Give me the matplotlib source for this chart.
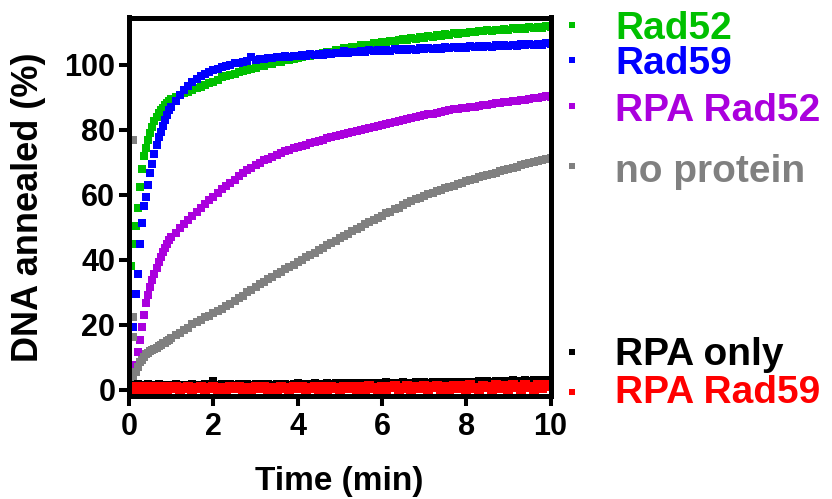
import numpy as np
import matplotlib
matplotlib.use("Agg")
import matplotlib.pyplot as plt

plt.rcParams['font.family'] = ['Liberation Sans', 'DejaVu Sans']
plt.rcParams['font.weight'] = 'bold'

nan = np.nan

# sampling times (min): dense start, then every 0.1 min
time_min = np.round(np.concatenate([np.linspace(0.05, 0.95, 19),
                                    np.linspace(1.0, 10.0, 91)]), 2)

rad52 = [38, 45, 50.5, 56, 62.5, 68, 72, 74.5, 77, 79.2,
         81, 82.8, 84, 85.2, 86.1, 86.8, 87.6, 88.3, 88.9,
         89.4, 90.0, 90.6, 91.3, 91.8, 92.3, 92.9, 93.3, 93.9, 94.4,
         94.9, 95.4, 96.2, 96.6, 97.0, 97.3, 97.9, 98.2, 98.4, 98.9,
         99.1, 99.6, 99.8, 100.3, 100.4, 100.9, 101.0, 101.4, 101.6, 101.9,
         102.2, 102.4, 102.8, 102.7, 103.2, 103.4, 103.6, 104.1, 104.0, 104.5,
         104.6, 105.2, 105.1, 105.6, 105.5, 106.0, 106.2, 106.1, 106.6, 106.7,
         107.0, 106.9, 107.4, 107.3, 107.6, 107.9, 107.8, 108.2, 108.1, 108.5,
         108.4, 108.8, 108.7, 109.1, 109.0, 109.4, 109.3, 109.7, 109.5, 109.9,
         109.8, 110.2, 110.0, 110.4, 110.3, 110.6, 110.5, 110.9, 110.7, 111.1,
         110.9, 111.3, 111.1, 111.5, 111.2, 111.6, 111.4, 111.8, 111.5, 111.9, 111.7]

rad59 = [nan, 19.5, 29.5, 35.8, 45, 51.5, 56.5, 59.5, 63, 66.8,
         69.5, 72.5, 75.5, 77.8, 79.5, 81.2, 83.0, 84.5, 86.0,
         87.0, 89.0, 90.8, 92.2, 93.6, 94.8, 95.8, 96.6, 97.3, 97.9,
         98.5, 98.9, 99.4, 99.8, 100.0, 100.5, 100.6, 101.0, 101.1, 102.5,
         101.5, 101.9, 101.7, 102.2, 102.0, 102.5, 102.3, 102.7, 102.4, 102.9,
         102.7, 103.1, 102.8, 103.3, 103.0, 103.5, 103.2, 103.7, 103.4, 103.8,
         103.6, 104.3, 103.8, 104.1, 103.9, 104.3, 104.0, 104.5, 104.2, 104.6,
         104.3, 104.7, 104.4, 104.9, 104.5, 104.9, 104.6, 105.0, 104.7, 105.1,
         104.8, 105.2, 104.9, 105.3, 105.0, 105.4, 105.1, 105.5, 105.2, 105.6,
         105.3, 105.7, 105.4, 105.8, 105.5, 105.9, 105.6, 106.0, 105.7, 106.1,
         105.8, 106.2, 105.9, 106.3, 106.0, 106.4, 106.1, 106.5, 106.2, 106.6, 106.3]

rpa_rad52 = [nan, 4.5, 7.8, 11.8, 15.5, 19.3, 23.2, 26.8, 29.3, 31.7,
             33.8, 35.8, 37.6, 39.3, 40.9, 42.4, 43.8, 45.0, 46.1,
             47.0, 48.3, 49.7, 51.0, 52.3, 53.4, 54.8, 56.0, 57.3, 58.4,
             59.5, 60.6, 61.7, 62.7, 63.8, 64.7, 65.7, 66.6, 67.6, 68.4,
             69.2, 69.9, 70.6, 71.2, 71.7, 72.3, 72.8, 73.4, 73.8, 74.3,
             74.7, 75.2, 75.5, 76.0, 76.3, 76.7, 77.0, 77.5, 77.7, 78.2,
             78.4, 78.8, 79.0, 79.4, 79.6, 80.0, 80.3, 80.7, 80.9, 81.3,
             81.5, 81.9, 82.1, 82.5, 82.7, 83.1, 83.3, 83.7, 83.9, 84.3,
             84.5, 84.8, 85.0, 85.3, 85.5, 85.8, 86.0, 86.3, 86.4, 86.7,
             86.8, 87.1, 87.2, 87.5, 87.6, 87.8, 88.0, 88.2, 88.3, 88.6,
             88.7, 88.9, 89.0, 89.3, 89.3, 89.6, 89.7, 89.9, 90.0, 90.3, 90.2]

no_protein = [nan, 3.8, 5.5, 7.0, 8.5, 9.3, 10.2, 11.0, 11.4, 11.9,
              12.3, 12.6, 13.0, 13.6, 13.9, 14.3, 14.6, 15.0, 15.4,
              15.9, 16.8, 17.6, 18.5, 19.2, 20.2, 20.9, 21.6, 22.4, 22.9,
              23.6, 24.3, 24.9, 25.7, 26.5, 27.3, 28.3, 29.0, 30.0, 30.8,
              31.8, 32.5, 33.3, 34.0, 34.9, 35.6, 36.4, 37.1, 37.9, 38.5,
              39.3, 40.1, 40.8, 41.6, 42.2, 43.0, 43.8, 44.5, 45.3, 45.9,
              46.7, 47.4, 48.1, 48.8, 49.5, 50.2, 51.0, 51.6, 52.3, 52.9,
              53.6, 54.3, 54.9, 55.6, 56.1, 56.8, 57.4, 58.0, 58.6, 59.1,
              59.7, 60.2, 60.7, 61.2, 61.6, 62.0, 62.5, 62.9, 63.4, 63.8,
              64.2, 64.6, 65.0, 65.4, 65.7, 66.1, 66.5, 66.9, 67.3, 67.6,
              68.0, 68.4, 68.7, 69.1, 69.4, 69.8, 70.1, 70.5, 70.8, 71.2, 71.3]
# first few scattered "no protein" readings
no_protein_start_time = [0.1, 0.1, 0.1]
no_protein_start_vals = [77, 22.4, 16.2]

rpa_only = [1.3, 1.6, 1.4, 1.7, 1.5, 1.3, 1.6, 1.4, 1.7, 1.5,
            1.4, 1.6, 1.5, 1.7, 1.4, 1.6, 1.5, 1.3, 1.6,
            1.5, 1.7, 1.4, 1.6, 1.5, 1.8, 1.4, 1.6, 1.7, 1.5,
            2.7, 1.6, 1.8, 1.5, 1.7, 1.6, 1.8, 1.5, 1.7, 1.6,
            1.8, 1.6, 1.7, 1.9, 1.6, 1.8, 1.7, 1.9, 1.6, 1.8,
            2.0, 1.7, 1.9, 1.8, 2.0, 1.7, 1.9, 2.1, 1.8, 2.0,
            1.9, 2.1, 1.8, 2.0, 2.2, 1.9, 2.1, 2.0, 2.2, 1.9,
            2.1, 2.3, 2.0, 2.2, 2.1, 2.3, 2.0, 2.2, 2.4, 2.1,
            2.3, 2.2, 2.4, 2.1, 2.5, 2.3, 2.4, 2.6, 2.3, 2.5,
            2.4, 2.6, 2.5, 2.7, 2.4, 2.8, 2.6, 2.7, 2.9, 2.6,
            2.8, 3.0, 2.7, 2.9, 3.1, 2.8, 3.0, 2.9, 3.1, 3.0, 2.9]

rpa_rad59 = [0.6, 0.3, 0.8, 0.5, 0.9, 0.4, 0.7, 0.3, 0.8, 0.6,
             0.4, 0.9, 0.5, 0.7, 0.3, 0.8, 0.6, 0.4, 0.9,
             0.5, 0.8, 0.3, 0.7, 0.9, 0.4, 0.6, 0.8, 0.3, 0.7,
             0.9, 0.4, 0.6, 0.3, 0.8, 0.5, 0.9, 0.4, 0.7, 0.3,
             0.8, 0.5, 0.9, 0.3, 0.7, 0.4, 0.9, 0.6, 0.3, 0.8,
             0.5, 1.0, 0.3, 0.7, 0.9, 0.4, 0.8, 0.3, 1.0, 0.6,
             0.3, 0.9, 0.5, 1.0, 0.4, 0.8, 0.3, 1.1, 0.6, 0.4,
             1.0, 0.3, 0.8, 1.1, 0.4, 0.7, 1.2, 0.3, 0.9, 0.5,
             1.2, 0.3, 0.8, 1.3, 0.4, 1.0, 0.3, 1.3, 0.6, 1.1,
             0.3, 1.4, 0.7, 0.2, 1.3, 0.9, 0.3, 1.5, 0.6, 1.2,
             0.2, 1.5, 0.8, 0.3, 1.6, 1.0, 0.2, 1.5, 0.7, 1.6, 1.2]

labels = ['Rad52', 'Rad59', 'RPA Rad52', 'no protein', 'RPA only', 'RPA Rad59']
colors = ['#00C000', '#0000FF', '#AA00DD', '#808080', '#000000', '#FF0000']
series = [rad52, rad59, rpa_rad52, no_protein, rpa_only, rpa_rad59]
marker_sizes = [6.2, 6.2, 6.2, 6.4, 6.0, 7.4]
# legend anchor heights (data units) next to each curve end
label_y = [107.9, 97.2, 82.6, 64.1, 7.7, -3.9]
marker_y = [112.3, 101.5, 87.4, 69.0, 11.8, -0.5]

fig = plt.figure(figsize=(8.32, 4.99), dpi=100)
ax = fig.add_axes([129.2 / 832, 1 - 395.8 / 499, (550.5 - 129.2) / 832, (395.8 - 17.5) / 499])

for vals, col, ms in zip(series, colors, marker_sizes):
    ax.plot(time_min, vals, 's', color=col, ms=ms, mew=0)
    if col == '#808080':
        ax.plot(no_protein_start_time, no_protein_start_vals, 's', color=col, ms=ms, mew=0)

for lab, col, ly, my in zip(labels, colors, label_y, marker_y):
    ax.plot([10.51], [my], 's', color=col, ms=4, mew=0, clip_on=False)
    ax.text(11.53, ly, lab, color=col, fontsize=28, fontweight='bold',
            va='baseline', ha='left', clip_on=False)

ax.set_xlim(0, 10)
ax.set_ylim(-1.8, 114.6)
ax.set_xticks([0, 2, 4, 6, 8, 10])
ax.set_yticks([0, 20, 40, 60, 80, 100])
for s in ax.spines.values():
    s.set_linewidth(3.6)
ax.tick_params(axis='both', direction='out', length=7.5, width=2.9, labelsize=22)
ax.tick_params(axis='x', pad=4)
ax.tick_params(axis='y', pad=2.5)
for t in ax.get_xticklabels() + ax.get_yticklabels():
    t.set_fontweight('bold')

fig.text(339 / 832, 1 - 490 / 499, 'Time (min)', fontsize=24, fontweight='bold',
         ha='center', va='baseline')
fig.text(29 / 832, 1 - 207 / 499, 'DNA annealed (%)', fontsize=26, fontweight='bold',
         ha='center', va='center', rotation=90)

fig.savefig('out.png', dpi=100)
